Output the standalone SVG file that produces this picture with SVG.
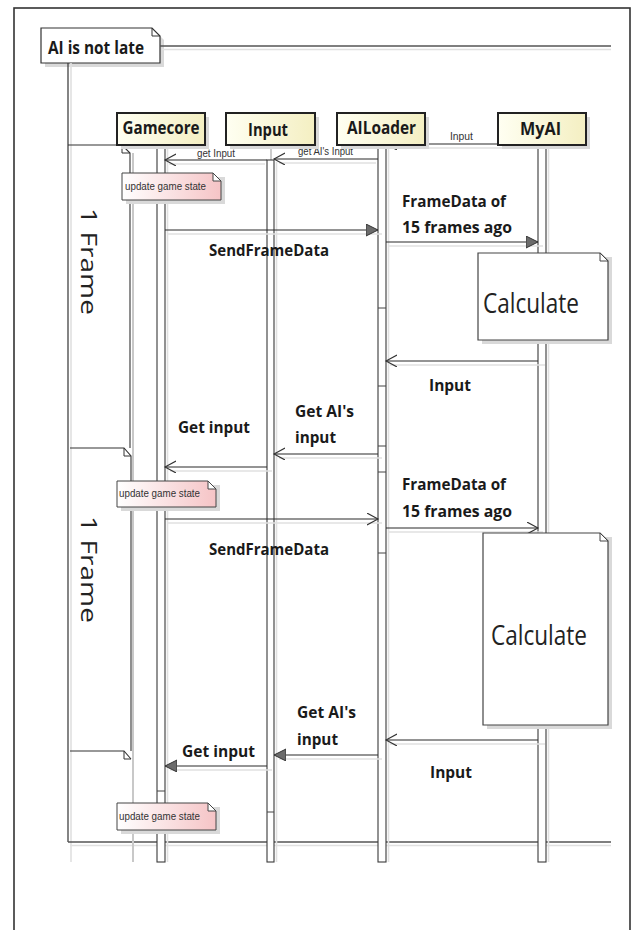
<svg xmlns="http://www.w3.org/2000/svg" width="638" height="930" viewBox="0 0 638 930">
<style>
.ln{stroke:#2a2a2a;stroke-width:1.2;fill:none}
.sh{stroke:#e0e0e0;stroke-width:1.6;fill:none}
.bar{fill:#fff;stroke:#3a3a3a;stroke-width:1.1}
.head{fill:url(#hg);stroke:#222;stroke-width:2}
.hsh{fill:#d9d9d9}
.ht{font-family:"Open Sans","Noto Sans",sans-serif;font-weight:bold;font-size:17px;fill:#1a1a1a;text-anchor:middle}
.lb{font-family:"Open Sans","Noto Sans",sans-serif;font-weight:bold;font-size:16px;fill:#1a1a1a}
.sm{font-family:"Liberation Sans",Arial,sans-serif;font-size:11px;fill:#333}
.big{font-family:"Open Sans","Noto Sans",sans-serif;font-size:28px;fill:#222}
.frm{font-family:"Open Sans","Noto Sans",sans-serif;font-size:22px;fill:#222}
.note{fill:url(#pg);stroke:#444;stroke-width:1}
.wnote{fill:#fff;stroke:#444;stroke-width:1.2}
.fold{fill:#fff;stroke:#444;stroke-width:1}
</style>
<defs>
<linearGradient id="hg" x1="0" y1="0" x2="1" y2="0">
<stop offset="0" stop-color="#fffff2"/><stop offset="1" stop-color="#f4efc2"/>
</linearGradient>
<linearGradient id="pg" x1="0" y1="0" x2="1" y2="0">
<stop offset="0" stop-color="#ffffff"/><stop offset="1" stop-color="#f5c4c6"/>
</linearGradient>
<marker id="open" markerUnits="userSpaceOnUse" markerWidth="14" markerHeight="14" refX="11" refY="6" orient="auto">
<path d="M0,0 L11,6 L0,12" fill="none" stroke="#333" stroke-width="1.1"/>
</marker>
<marker id="fill" markerUnits="userSpaceOnUse" markerWidth="14" markerHeight="14" refX="12" refY="6" orient="auto">
<path d="M0,0 L12,6 L0,12 Z" fill="#6b6b6b" stroke="#333" stroke-width="1"/>
</marker>
</defs>
<rect x="0" y="0" width="638" height="930" fill="#fff"/>
<rect x="14" y="8" width="616" height="940" fill="none" stroke="#333" stroke-width="1.6"/>

<g id="frame">
<polygon class="hsh" points="45,32 156,32 164,40 164,67 45,67"/>
<polygon points="41,28 152,28 160,36 160,63 41,63" fill="#fff" stroke="#333" stroke-width="1.2"/>
<path d="M152,28 L152,36 L160,36" fill="none" stroke="#333" stroke-width="1"/>
<text x="48" y="54" class="lb" style="font-size:17px" textLength="96" lengthAdjust="spacingAndGlyphs">AI is not late</text>
<line x1="160" y1="46" x2="611" y2="46" stroke="#555" stroke-width="1.5"/>
<line x1="162" y1="49.5" x2="611" y2="49.5" class="sh"/>
<line x1="68" y1="63" x2="68" y2="842" stroke="#333" stroke-width="1.2"/>
<line x1="71" y1="63" x2="71" y2="862" class="sh"/>
<line x1="68" y1="842" x2="611" y2="842" stroke="#555" stroke-width="1.5"/>
<line x1="70" y1="845.5" x2="611" y2="845.5" class="sh"/>
</g>

<g id="frames-column">
<line x1="133" y1="153" x2="133" y2="862" stroke="#c8c8c8" stroke-width="2"/>
<path d="M68,145 H122 L130,153 V448" fill="none" stroke="#333" stroke-width="1.1"/>
<path d="M122,145 V153 H130" fill="none" stroke="#333" stroke-width="1"/>
<path d="M70,448 H124 L131,456 V751" fill="none" stroke="#333" stroke-width="1.1"/>
<path d="M124,448 V456 H131" fill="none" stroke="#333" stroke-width="1"/>
<path d="M70,751 H124 L131,759" fill="none" stroke="#333" stroke-width="1.1"/>
<path d="M124,751 V759 H131" fill="none" stroke="#333" stroke-width="1"/>
<text class="frm" transform="translate(81,208) rotate(90)" textLength="107" lengthAdjust="spacingAndGlyphs">1 Frame</text>
<text class="frm" transform="translate(81,516) rotate(90)" textLength="107" lengthAdjust="spacingAndGlyphs">1 Frame</text>
</g>

<g id="lifelines">
<line x1="167.5" y1="147" x2="167.5" y2="862" class="sh"/>
<rect class="bar" x="157" y="145" width="8" height="717"/>
<line x1="271" y1="145" x2="271" y2="160" stroke="#999" stroke-width="1"/>
<line x1="276.5" y1="162" x2="276.5" y2="862" class="sh"/>
<rect class="bar" x="267" y="160" width="7" height="702"/>
<line x1="388.5" y1="147" x2="388.5" y2="862" class="sh"/>
<rect class="bar" x="378" y="145" width="8" height="717"/>
<line x1="548.5" y1="147" x2="548.5" y2="862" class="sh"/>
<rect class="bar" x="538" y="145" width="8" height="717"/>
<g stroke="#444" stroke-width="1">
<line x1="378" y1="308" x2="386" y2="308"/>
<line x1="378" y1="386" x2="386" y2="386"/>
<line x1="378" y1="446" x2="386" y2="446"/>
<line x1="378" y1="472" x2="386" y2="472"/>
<line x1="378" y1="553" x2="386" y2="553"/>
<line x1="157" y1="791" x2="165" y2="791"/>
<line x1="267" y1="812" x2="274" y2="812"/>
</g>
</g>

<g id="connectors">
<g class="sh">
<line x1="390" y1="148" x2="536" y2="148"/>
<line x1="279" y1="163" x2="376" y2="163"/>
<line x1="169" y1="164" x2="265" y2="164"/>
<line x1="168" y1="234" x2="382" y2="234"/>
<line x1="389" y1="246" x2="543" y2="246"/>
<line x1="390" y1="365" x2="545" y2="365"/>
<line x1="279" y1="458" x2="382" y2="458"/>
<line x1="170" y1="471" x2="272" y2="471"/>
<line x1="168" y1="523" x2="382" y2="523"/>
<line x1="389" y1="532" x2="543" y2="532"/>
<line x1="390" y1="744" x2="545" y2="744"/>
<line x1="279" y1="759" x2="382" y2="759"/>
<line x1="170" y1="770" x2="272" y2="770"/>
</g>
<line class="ln" x1="538" y1="144" x2="386" y2="144" marker-end="url(#open)"/>
<line class="ln" x1="378" y1="159" x2="274" y2="159" marker-end="url(#open)"/>
<line class="ln" x1="267" y1="160" x2="165" y2="160" marker-end="url(#open)"/>
<line class="ln" x1="165" y1="230" x2="378" y2="230" marker-end="url(#fill)"/>
<line class="ln" x1="386" y1="242" x2="538" y2="242" marker-end="url(#fill)"/>
<line class="ln" x1="538" y1="361" x2="386" y2="361" marker-end="url(#open)"/>
<line class="ln" x1="378" y1="454" x2="274" y2="454" marker-end="url(#open)"/>
<line class="ln" x1="267" y1="467" x2="165" y2="467" marker-end="url(#open)"/>
<line class="ln" x1="165" y1="519" x2="378" y2="519" marker-end="url(#open)"/>
<line class="ln" x1="386" y1="528" x2="538" y2="528" marker-end="url(#open)"/>
<line class="ln" x1="538" y1="740" x2="386" y2="740" marker-end="url(#open)"/>
<line class="ln" x1="378" y1="755" x2="274" y2="755" marker-end="url(#fill)"/>
<line class="ln" x1="267" y1="766" x2="165" y2="766" marker-end="url(#fill)"/>
<text class="sm" x="450" y="140" textLength="23" lengthAdjust="spacingAndGlyphs">Input</text>
<text class="sm" x="298" y="155" textLength="55" lengthAdjust="spacingAndGlyphs">get AI's Input</text>
<text class="sm" x="197" y="157" textLength="38" lengthAdjust="spacingAndGlyphs">get Input</text>
<text class="lb" x="209" y="256" textLength="120" lengthAdjust="spacingAndGlyphs">SendFrameData</text>
<text class="lb" x="402" y="207" textLength="104" lengthAdjust="spacingAndGlyphs">FrameData of</text>
<text class="lb" x="402" y="233" textLength="110" lengthAdjust="spacingAndGlyphs">15 frames ago</text>
<text class="lb" x="429" y="391" textLength="42" lengthAdjust="spacingAndGlyphs">Input</text>
<text class="lb" x="295" y="417" textLength="59" lengthAdjust="spacingAndGlyphs">Get AI's</text>
<text class="lb" x="295" y="443" textLength="41" lengthAdjust="spacingAndGlyphs">input</text>
<text class="lb" x="178" y="433" textLength="72" lengthAdjust="spacingAndGlyphs">Get input</text>
<text class="lb" x="209" y="555" textLength="120" lengthAdjust="spacingAndGlyphs">SendFrameData</text>
<text class="lb" x="402" y="490" textLength="104" lengthAdjust="spacingAndGlyphs">FrameData of</text>
<text class="lb" x="402" y="517" textLength="110" lengthAdjust="spacingAndGlyphs">15 frames ago</text>
<text class="lb" x="430" y="778" textLength="42" lengthAdjust="spacingAndGlyphs">Input</text>
<text class="lb" x="297" y="718" textLength="59" lengthAdjust="spacingAndGlyphs">Get AI's</text>
<text class="lb" x="297" y="745" textLength="41" lengthAdjust="spacingAndGlyphs">input</text>
<text class="lb" x="182" y="757" textLength="73" lengthAdjust="spacingAndGlyphs">Get input</text>
</g>

<g id="head-gamecore">
<rect class="hsh" x="121" y="117" width="88" height="32"/>
<rect class="head" x="117" y="113" width="88" height="32"/>
<text class="ht" x="161" y="134" textLength="77" lengthAdjust="spacingAndGlyphs">Gamecore</text>
</g>
<g id="head-input">
<rect class="hsh" x="230" y="117" width="89" height="32"/>
<rect class="head" x="226" y="113" width="89" height="32"/>
<text class="ht" x="268" y="136" textLength="40" lengthAdjust="spacingAndGlyphs">Input</text>
</g>
<g id="head-ailoader">
<rect class="hsh" x="341" y="117" width="88" height="32"/>
<rect class="head" x="337" y="113" width="88" height="32"/>
<text class="ht" x="381.5" y="134" textLength="69" lengthAdjust="spacingAndGlyphs">AILoader</text>
</g>
<g id="head-myai">
<rect class="hsh" x="502" y="117" width="88" height="32"/>
<rect class="head" x="498" y="113" width="88" height="32"/>
<text class="ht" x="540.5" y="135" textLength="41" lengthAdjust="spacingAndGlyphs">MyAI</text>
</g>

<g id="note-update-1">
<polygon class="hsh" points="126,177 225,177 225,204 126,204"/>
<polygon class="note" points="122,173 213,173 221,181 221,200 122,200"/>
<path class="fold" d="M213,173 V181 H221 Z"/>
<text class="sm" x="125" y="190" textLength="81" lengthAdjust="spacingAndGlyphs">update game state</text>
</g>
<g id="note-update-2">
<polygon class="hsh" points="121,485 220,485 220,511 121,511"/>
<polygon class="note" points="117,481 208,481 216,489 216,507 117,507"/>
<path class="fold" d="M208,481 V489 H216 Z"/>
<text class="sm" x="119" y="497" textLength="81" lengthAdjust="spacingAndGlyphs">update game state</text>
</g>
<g id="note-update-3">
<polygon class="hsh" points="121,807 220,807 220,834 121,834"/>
<polygon class="note" points="117,803 208,803 216,811 216,830 117,830"/>
<path class="fold" d="M208,803 V811 H216 Z"/>
<text class="sm" x="119" y="820" textLength="81" lengthAdjust="spacingAndGlyphs">update game state</text>
</g>

<g id="note-calculate-1">
<polygon class="hsh" points="482,257 612,257 612,344 482,344"/>
<polygon class="wnote" points="478,253 600,253 608,261 608,340 478,340"/>
<path class="fold" d="M600,253 V261 H608 Z"/>
<text class="big" x="483" y="313" textLength="96" lengthAdjust="spacingAndGlyphs">Calculate</text>
</g>
<g id="note-calculate-2">
<polygon class="hsh" points="487,537 612,537 612,729 487,729"/>
<polygon class="wnote" points="483,533 600,533 608,541 608,725 483,725"/>
<path class="fold" d="M600,533 V541 H608 Z"/>
<text class="big" x="491" y="645" textLength="96" lengthAdjust="spacingAndGlyphs">Calculate</text>
</g>
</svg>
